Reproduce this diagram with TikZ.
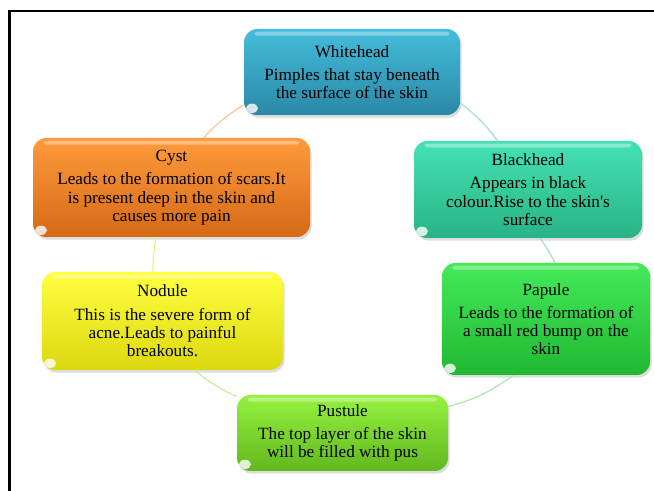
\documentclass[tikz,border=0pt]{standalone}
\usepackage{fontspec}
\setmainfont{Liberation Serif}
\usetikzlibrary{shadows}
\definecolor{whT}{HTML}{45BCDC}\definecolor{whB}{HTML}{2A88A6}
\definecolor{bhT}{HTML}{45E2B4}\definecolor{bhB}{HTML}{28B386}
\definecolor{paT}{HTML}{45EA5A}\definecolor{paB}{HTML}{1FB832}
\definecolor{puT}{HTML}{95F23F}\definecolor{puB}{HTML}{62B81E}
\definecolor{noT}{HTML}{FFFF40}\definecolor{noB}{HTML}{DCD810}
\definecolor{cyT}{HTML}{FF9A3C}\definecolor{cyB}{HTML}{D46A16}
\definecolor{lnWB}{HTML}{A6D8E6}\definecolor{lnBP}{HTML}{9CE4C8}
\definecolor{lnPP}{HTML}{A8EAA4}\definecolor{lnPN}{HTML}{C6EE9C}
\definecolor{lnNC}{HTML}{EEEE7A}\definecolor{lnCW}{HTML}{F8C598}
\tikzset{
  stage/.style 2 args={draw=none, rounded corners=10pt, align=center,
    top color=#1, bottom color=#2, font=\fontsize{12.9}{13.6}\selectfont,
    drop shadow={shadow xshift=1.2pt, shadow yshift=-2pt, opacity=0.28},
    path picture={
      \fill[white,opacity=0.35,rounded corners=2pt]
        ([xshift=8pt,yshift=-2pt]path picture bounding box.north west) rectangle
        ([xshift=-8pt,yshift=-5pt]path picture bounding box.north east);
      \fill[white,opacity=0.8]
        ([xshift=6pt,yshift=5pt]path picture bounding box.south west) ellipse (4.5pt and 3.5pt);
    }},
  link/.style={line width=0.9pt}
}
\newcommand{\ttl}[1]{#1\\[4pt]}
\begin{document}
\begin{tikzpicture}[x=0.75pt,y=-0.75pt]
\useasboundingbox (0,0) rectangle (654,491);
\draw[line width=1.6pt] (9.5,491) -- (9.5,11) -- (654,11);

\node[stage={whT}{whB}, minimum width=216*0.75pt, minimum height=86*0.75pt] (wh) at (352,72)
  {\ttl{Whitehead}Pimples that stay beneath\\the surface of the skin};
\node[stage={bhT}{bhB}, minimum width=228*0.75pt, minimum height=97*0.75pt] (bh) at (528,189.5)
  {\ttl{Blackhead}Appears in black\\colour.Rise to the skin\textquotesingle s\\surface};
\node[stage={paT}{paB}, minimum width=208*0.75pt, minimum height=112*0.75pt] (pa) at (546,319)
  {\ttl{Papule}Leads to the formation of\\a small red bump on the\\skin};
\node[stage={puT}{puB}, minimum width=211*0.75pt, minimum height=76*0.75pt] (pu) at (342.5,433)
  {\ttl{Pustule}The top layer of the skin\\will be filled with pus};
\node[stage={noT}{noB}, minimum width=241*0.75pt, minimum height=98*0.75pt] (no) at (162.5,321)
  {\ttl{Nodule}This is the severe form of\\acne.Leads to painful\\breakouts.};
\node[stage={cyT}{cyB}, minimum width=277*0.75pt, minimum height=99*0.75pt] (cy) at (171.5,187.5)
  {\ttl{Cyst}Leads to the formation of scars.It\\is present deep in the skin and\\causes more pain};

\draw[link,lnWB] (wh.-16.5) to[bend left=8] (bh.122);
\draw[link,lnBP] (bh.-76) to[bend left=4] (pa.81);
\draw[link,lnPP] (pa.240) to[bend left=10] (pu.14);
\draw[link,lnPN] (pu.161) to[bend left=7] (no.-57);
\draw[link,lnNC] (no.101) to[bend left=5] (cy.253);
\draw[link,lnCW] (cy.57) to[bend left=8] (wh.197);
\end{tikzpicture}
\end{document}
